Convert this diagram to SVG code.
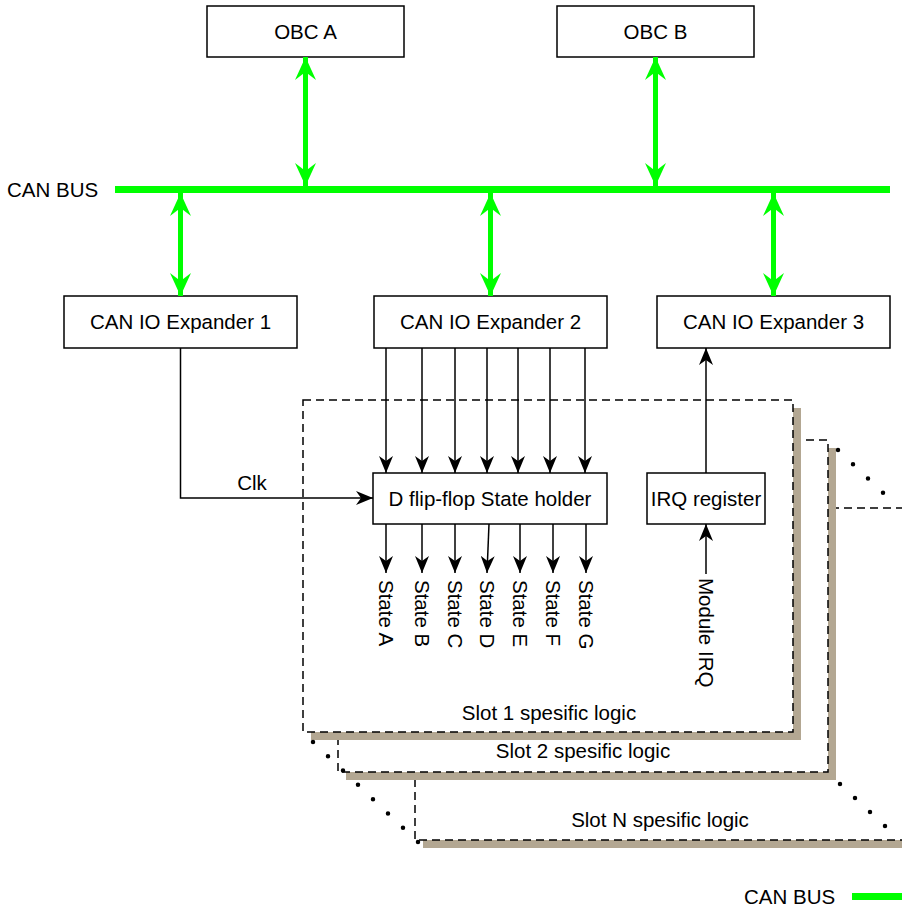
<svg xmlns="http://www.w3.org/2000/svg" width="902" height="909" viewBox="0 0 902 909">
  <style>
    text { font-family: "Liberation Sans", Arial, sans-serif; font-size: 20.5px; fill: #000; }
    .mid { text-anchor: middle; }
    .box { fill: #fff; stroke: #000; stroke-width: 1.5; }
    .slot { fill: #fff; stroke: #000; stroke-width: 1.5; stroke-dasharray: 8 5; }
    .shadow { fill: #b3a792; stroke: none; }
    .dots { fill: none; stroke: #000; stroke-width: 4.5; stroke-linecap: round; }
    .bus { stroke: #00ff00; stroke-width: 7; fill: none; }
    .link { stroke: #00ff00; stroke-width: 5; fill: none; marker-start: url(#gh); marker-end: url(#gh); }
    .wire { stroke: #000; stroke-width: 1.5; fill: none; marker-end: url(#bh); }
  </style>
  <defs>
    <marker id="gh" viewBox="0 0 23 21" refX="23" refY="10.5" markerWidth="23" markerHeight="21" markerUnits="userSpaceOnUse" orient="auto-start-reverse">
      <path d="M0,0 L23,10.5 L0,21 L8,10.5 Z" fill="#00ff00"/>
    </marker>
    <marker id="bh" viewBox="0 0 17 14" refX="17" refY="7" markerWidth="17" markerHeight="14" markerUnits="userSpaceOnUse" orient="auto">
      <path d="M0,0 L17,7 L0,14 L5,7 Z" fill="#000"/>
    </marker>
  </defs>

  <!-- stacked slot logic panels, back to front -->
  <g id="slot-n">
    <rect class="shadow" x="423" y="516" width="490" height="332"/>
    <rect class="slot" x="415" y="508" width="490" height="332"/>
    <text class="mid" x="660" y="827">Slot N spesific logic</text>
  </g>
  <g id="slot-2">
    <rect class="shadow" x="346" y="448" width="490" height="332"/>
    <rect class="slot" x="338" y="440" width="490" height="332"/>
    <text class="mid" x="583" y="758">Slot 2 spesific logic</text>
  </g>
  <g id="slot-1">
    <rect class="shadow" x="311" y="408" width="490" height="332"/>
    <rect class="slot" x="303" y="400" width="490" height="332"/>
    <text class="mid" x="549" y="720">Slot 1 spesific logic</text>
  </g>
  <g id="slot-ellipsis">
    <line class="dots" x1="313" y1="742" x2="418" y2="842" stroke-dasharray="0 20.71"/>
    <line class="dots" x1="838" y1="450" x2="898" y2="507" stroke-dasharray="0 20.69"/>
    <line class="dots" x1="840" y1="784" x2="900" y2="840" stroke-dasharray="0 20.52"/>
  </g>

  <!-- bus -->
  <g id="can-bus">
    <line class="bus" x1="115" y1="189.5" x2="890" y2="189.5"/>
    <text x="7" y="196.5">CAN BUS</text>
  </g>

  <g id="obc-a">
    <rect class="box" x="207" y="6" width="197" height="51"/>
    <text class="mid" x="305.5" y="39">OBC A</text>
  </g>
  <g id="obc-b">
    <rect class="box" x="557" y="6" width="197" height="51"/>
    <text class="mid" x="655.5" y="39">OBC B</text>
  </g>

  <g id="expander-1">
    <rect class="box" x="64" y="296" width="233" height="52"/>
    <text class="mid" x="180.5" y="329">CAN IO Expander 1</text>
  </g>
  <g id="expander-2">
    <rect class="box" x="374" y="296" width="233" height="52"/>
    <text class="mid" x="490.5" y="329">CAN IO Expander 2</text>
  </g>
  <g id="expander-3">
    <rect class="box" x="657" y="296" width="233" height="52"/>
    <text class="mid" x="773.5" y="329">CAN IO Expander 3</text>
  </g>

  <g id="state-holder">
    <rect class="box" x="373" y="473" width="234" height="51"/>
    <text class="mid" x="490" y="506">D flip-flop State holder</text>
  </g>
  <g id="irq-register">
    <rect class="box" x="647" y="473" width="118" height="51"/>
    <text class="mid" x="706" y="506">IRQ register</text>
  </g>

  <!-- connectors -->
  <g id="connectors">
    <line class="link" x1="305.5" y1="57" x2="305.5" y2="186"/>
    <line class="link" x1="655.5" y1="57" x2="655.5" y2="186"/>
    <line class="link" x1="180.5" y1="193" x2="180.5" y2="296"/>
    <line class="link" x1="490.5" y1="193" x2="490.5" y2="296"/>
    <line class="link" x1="773.5" y1="193" x2="773.5" y2="296"/>

    <polyline class="wire" points="180.5,348 180.5,498 373,498"/>
    <text class="mid" x="252" y="490">Clk</text>

    <line class="wire" x1="386" y1="348" x2="386" y2="473"/>
    <line class="wire" x1="422" y1="348" x2="422" y2="473"/>
    <line class="wire" x1="455" y1="348" x2="455" y2="473"/>
    <line class="wire" x1="487" y1="348" x2="487" y2="473"/>
    <line class="wire" x1="518" y1="348" x2="518" y2="473"/>
    <line class="wire" x1="550" y1="348" x2="550" y2="473"/>
    <line class="wire" x1="585" y1="348" x2="585" y2="473"/>

    <line class="wire" x1="386" y1="524" x2="386" y2="573"/>
    <line class="wire" x1="422" y1="524" x2="422" y2="573"/>
    <line class="wire" x1="455" y1="524" x2="455" y2="573"/>
    <line class="wire" x1="489" y1="524" x2="487" y2="573"/>
    <line class="wire" x1="520" y1="524" x2="520" y2="573"/>
    <line class="wire" x1="553" y1="524" x2="553" y2="573"/>
    <line class="wire" x1="586" y1="524" x2="586" y2="573"/>

    <line class="wire" x1="706" y1="473" x2="706" y2="348"/>
    <line class="wire" x1="706" y1="574" x2="706" y2="524"/>
  </g>

  <!-- vertical signal labels -->
  <g id="state-labels">
    <text transform="translate(379,580) rotate(90)">State A</text>
    <text transform="translate(415,580) rotate(90)">State B</text>
    <text transform="translate(448,580) rotate(90)">State C</text>
    <text transform="translate(480,580) rotate(90)">State D</text>
    <text transform="translate(513,580) rotate(90)">State E</text>
    <text transform="translate(546,580) rotate(90)">State F</text>
    <text transform="translate(579,580) rotate(90)">State G</text>
    <text transform="translate(699,578) rotate(90)">Module IRQ</text>
  </g>

  <!-- legend -->
  <g id="legend">
    <text x="744" y="903.5">CAN BUS</text>
    <line class="bus" x1="852" y1="896.5" x2="902" y2="896.5"/>
  </g>
</svg>
